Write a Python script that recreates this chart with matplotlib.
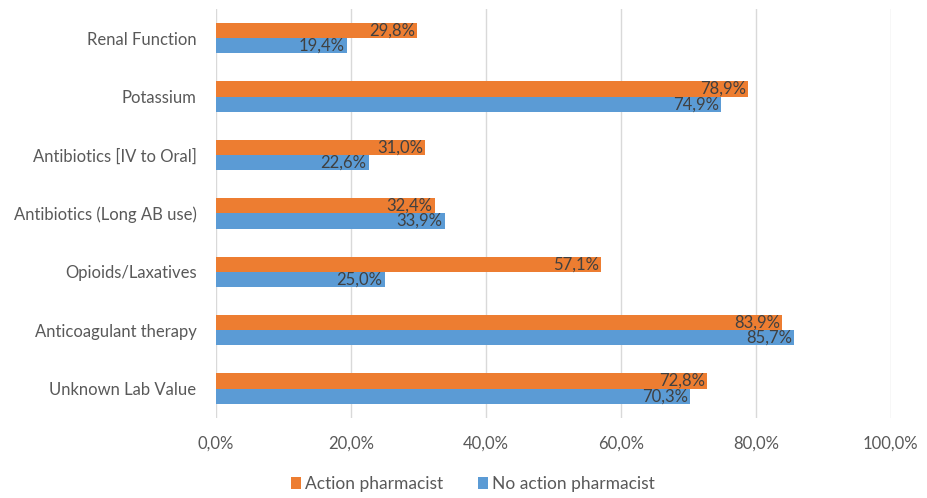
import matplotlib
matplotlib.use('Agg')
import matplotlib.pyplot as plt
import numpy as np

categories = ['Renal Function', 'Potassium', 'Antibiotics [IV to Oral]',
              'Antibiotics (Long AB use)', 'Opioids/Laxatives',
              'Anticoagulant therapy', 'Unknown Lab Value']
action = [29.8, 78.9, 31.0, 32.4, 57.1, 83.9, 72.8]
no_action = [19.4, 74.9, 22.6, 33.9, 25.0, 85.7, 70.3]
xticks = [0, 20, 40, 60, 80, 100]

plt.rcParams['font.family'] = ['Lato', 'DejaVu Sans']

fig = plt.figure(figsize=(9.27, 4.98), dpi=100)
ax = fig.add_axes([0.233, 0.161, 0.728, 0.821])

y = np.arange(len(categories))
h = 0.26
b1 = ax.barh(y - h / 2, action, height=h, color='#ED7D31', label='Action pharmacist')
b2 = ax.barh(y + h / 2, no_action, height=h, color='#5B9BD5', label='No action pharmacist')

def fmt(v):
    return f'{v:.1f}'.replace('.', ',') + '%'

for bars, vals in ((b1, action), (b2, no_action)):
    for bar, v in zip(bars, vals):
        ax.text(v - 0.3, bar.get_y() + bar.get_height() / 2, fmt(v),
                ha='right', va='center', fontsize=12, color='#404040')

ax.set_ylim(len(categories) - 0.5, -0.5)
ax.set_xlim(0, 100)
ax.set_yticks(y)
ax.set_yticklabels(categories, fontsize=12, color='#595959')
ax.set_xticks(xticks)
ax.set_xticklabels([fmt(t) for t in xticks], fontsize=12, color='#595959')
ax.tick_params(length=0)
ax.tick_params(axis='y', pad=14)
ax.tick_params(axis='x', pad=13)
ax.xaxis.grid(True, color='#D9D9D9', linewidth=1)
ax.set_axisbelow(True)
for s in ax.spines.values():
    s.set_visible(False)

fig.legend(handles=[b1, b2], loc='center', bbox_to_anchor=(0.51, 0.028), ncol=2,
           frameon=False, fontsize=12.5, handlelength=0.6, handleheight=0.7,
           handletextpad=0.2, columnspacing=2.0, labelcolor='#595959')

plt.savefig('out.png', dpi=100)
